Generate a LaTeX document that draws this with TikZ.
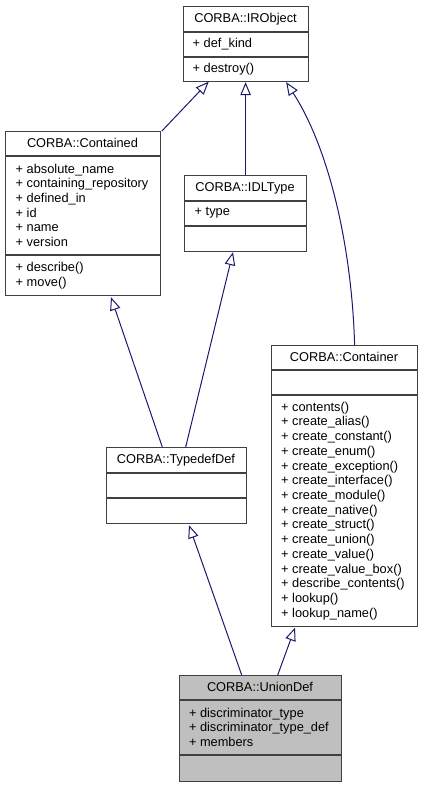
\documentclass[tikz,border=0pt]{standalone}
\usepackage{fontspec}
\setmainfont{Liberation Sans}
\usetikzlibrary{arrows.meta,calc}
\definecolor{edgeblue}{HTML}{191970}
\definecolor{boxline}{HTML}{404040}
\definecolor{unionfill}{HTML}{BFBFBF}
\tikzset{
  classbox/.style={draw=boxline, line width=1.2pt, inner sep=0pt, anchor=north west},
  sepline/.style={draw=boxline, line width=1.2pt},
  umlfont/.style={font=\fontsize{12.8pt}{14.7pt}\selectfont},
  title/.style={umlfont, inner sep=0pt, anchor=base},
  member/.style={umlfont, inner sep=0pt, anchor=base west},
  inh/.style={draw=edgeblue, line width=1pt,
    -{Triangle[open, length=13pt, width=10.5pt, line width=1pt]}}
}
\begin{document}
\begin{tikzpicture}[x=1pt, y=-1pt]
\useasboundingbox (0,0) rectangle (423,787);

% ---------- CORBA::IRObject ----------
\node[classbox, minimum width=125pt, minimum height=75pt] (irobject) at (183,6) {};
\draw[sepline] (183,32) -- (308,32);
\draw[sepline] (183,57) -- (308,57);
\node[title] (irobject-t) at (245.5,22.6) {CORBA::IRObject};
\node[member] (irobject-a1) at (192.5,47) {+ def\_kind};
\node[member] (irobject-m1) at (192.5,72) {+ destroy()};

% ---------- CORBA::Contained ----------
\node[classbox, minimum width=155pt, minimum height=164pt] (contained) at (5,131) {};
\draw[sepline] (5,156) -- (160,156);
\draw[sepline] (5,255) -- (160,255);
\node[title] (contained-t) at (82.5,147.5) {CORBA::Contained};
\foreach \txt [count=\i] in {+ absolute\_name, + containing\_repository, + defined\_in, + id, + name, + version}
  \node[member] (contained-a\i) at (15.5,{173.3+(\i-1)*14.6}) {\txt};
\node[member] (contained-m1) at (15.5,271.5) {+ describe()};
\node[member] (contained-m2) at (15.5,286.1) {+ move()};

% ---------- CORBA::IDLType ----------
\node[classbox, minimum width=122pt, minimum height=76pt] (idltype) at (184,175) {};
\draw[sepline] (184,201) -- (306,201);
\draw[sepline] (184,226) -- (306,226);
\node[title] (idltype-t) at (245,191.5) {CORBA::IDLType};
\node[member] (idltype-a1) at (194.5,215.5) {+ type};

% ---------- CORBA::Container ----------
\node[classbox, minimum width=146pt, minimum height=281pt] (container) at (271,345) {};
\draw[sepline] (271,370) -- (417,370);
\draw[sepline] (271,395) -- (417,395);
\node[title] (container-t) at (344,361) {CORBA::Container};
\foreach \txt [count=\i] in {+ contents(), + create\_alias(), + create\_constant(), + create\_enum(), + create\_exception(), + create\_interface(), + create\_module(), + create\_native(), + create\_struct(), + create\_union(), + create\_value(), + create\_value\_box(), + describe\_contents(), + lookup(), + lookup\_name()}
  \node[member] (container-m\i) at (281,{411.2+(\i-1)*14.71}) {\txt};

% ---------- CORBA::TypedefDef ----------
\node[classbox, minimum width=140pt, minimum height=76pt] (typedefdef) at (106,447) {};
\draw[sepline] (106,473) -- (246,473);
\draw[sepline] (106,498) -- (246,498);
\node[title] (typedefdef-t) at (176,463) {CORBA::TypedefDef};

% ---------- CORBA::UnionDef ----------
\node[classbox, fill=unionfill, minimum width=162pt, minimum height=106pt] (uniondef) at (179,675) {};
\draw[sepline] (179,700) -- (341,700);
\draw[sepline] (179,755) -- (341,755);
\node[title] (uniondef-t) at (260,691) {CORBA::UnionDef};
\node[member] (uniondef-a1) at (188.8,717) {+ discriminator\_type};
\node[member] (uniondef-a2) at (188.8,731.5) {+ discriminator\_type\_def};
\node[member] (uniondef-a3) at (188.8,746) {+ members};

% ---------- inheritance connectors ----------
\draw[inh] ($(contained.north east)+(0.7pt,0)$) -- ($(irobject.south west)+(25.7pt,0.5pt)$);
\draw[inh] (idltype.north) -- (idltype.north |- irobject.south);
\draw[inh] ($(container.north)+(10pt,0)$) .. controls (352,250) and (330,150) .. ($(irobject.south east)+(-23pt,0)$);
\draw[inh] ($(typedefdef.north west)+(56.3pt,0)$) -- ($(contained.south west)+(106pt,-1pt)$);
\draw[inh] ($(typedefdef.north west)+(79.7pt,0)$) -- ($(idltype.south west)+(49pt,0)$);
\draw[inh] ($(uniondef.north west)+(62.7pt,0)$) -- ($(typedefdef.south west)+(83pt,-1pt)$);
\draw[inh] ($(uniondef.north west)+(98.7pt,0)$) -- ($(container.south west)+(24pt,-0.5pt)$);
\end{tikzpicture}
\end{document}
